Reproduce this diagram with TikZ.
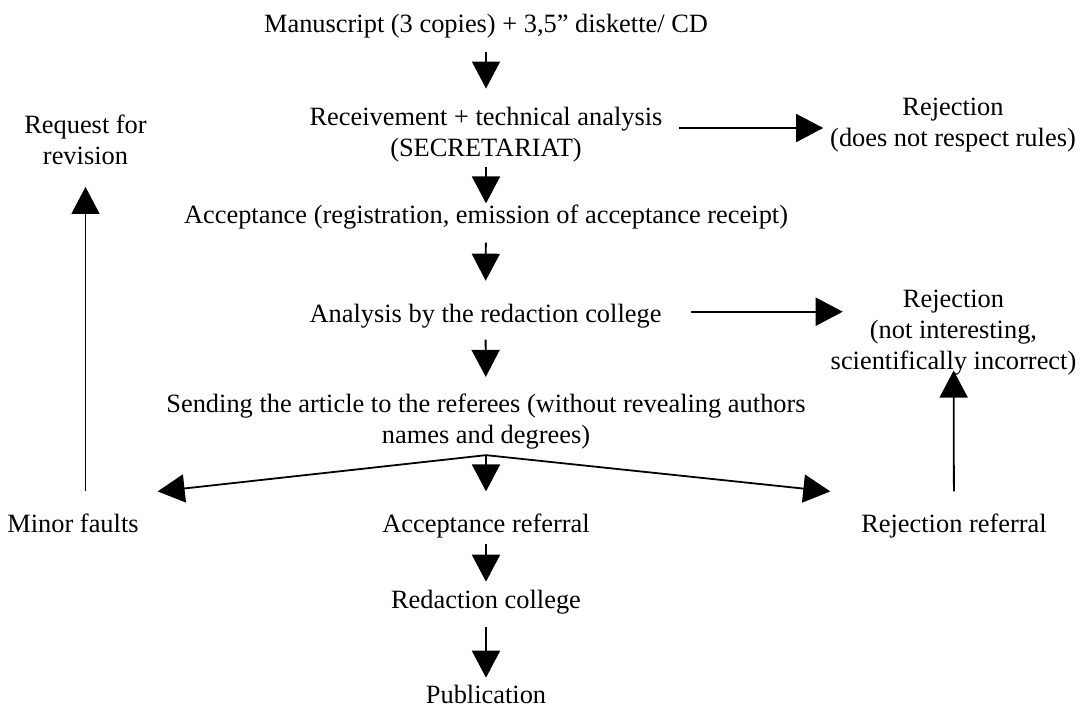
\documentclass[tikz,border=0pt]{standalone}
\usepackage{fontspec}
\setmainfont{Liberation Serif}
\usepackage{tikz}
\usetikzlibrary{arrows.meta,positioning}

\begin{document}
\begin{tikzpicture}[
  x=0.5pt,y=-0.5pt,
  txt/.style={align=center,inner sep=0pt,outer sep=0pt,
    font=\fontsize{13.2}{15.5}\selectfont},
  arr/.style={-{Triangle[length=13.5pt,width=14pt]},line width=0.9pt}]
\useasboundingbox (0,0) rectangle (1083,709);
\node[txt,anchor=base] (man) at (486,32) {Manuscript (3 copies) + 3,5'' diskette/ CD};
\node[txt] (rec) at (486,135) {Receivement + technical analysis\\(SECRETARIAT)};
\node[txt] (rej1) at (953,125) {Rejection\\(does not respect rules)};
\node[txt] (rev) at (85.5,140) {Request for\\revision};
\node[txt,anchor=base] (acc) at (486,223) {Acceptance (registration, emission of acceptance receipt)};
\node[txt,anchor=base] (ana) at (485.5,322) {Analysis by the redaction college};
\node[txt] (rej2) at (953.5,333) {Rejection\\(not interesting,\\scientifically incorrect)};
\node[txt] (send) at (486,421.5) {Sending the article to the referees (without revealing authors\\names and degrees)};
\coordinate[below=3pt of send] (split);
\node[txt,anchor=base] (minor) at (73,532) {Minor faults};
\node[txt,anchor=base] (accref) at (486,532) {Acceptance referral};
\node[txt,anchor=base] (rejref) at (954,532) {Rejection referral};
\node[txt,anchor=base] (red) at (486,608) {Redaction college};
\node[txt,anchor=base] (pub) at (486,703) {Publication};
% main line
\draw[arr,shorten <=7pt,shorten >=9.5pt] (man) -- (rec);
\draw[arr,shorten <=2.5pt,shorten >=0.5pt] (rec) -- (acc);
\draw[arr,shorten <=7pt,shorten >=11.5pt] (acc) -- (ana);
\draw[arr,shorten <=6pt,shorten >=8.5pt] (ana) -- (send);
\draw[arr,shorten >=11pt] (split) -- (accref);
\draw[arr,shorten <=3pt,shorten >=4pt] (accref) -- (red);
\draw[arr,shorten <=6.5pt,shorten >=3.5pt] (red) -- (pub);
% referees
\draw[arr] (split) -- ([xshift=9.5pt,yshift=11pt]minor.north east);
\draw[arr] (split) -- ([xshift=-15.5pt,yshift=11pt]rejref.north west);
\draw[arr,shorten <=11pt,shorten >=11pt] (rev |- minor.north) -- (rev);
\draw[arr,shorten <=11pt,shorten >=-2.5pt] (rejref) -- (rej2);
% rejections
\draw[arr,shorten <=8.5pt,shorten >=3.5pt] ([yshift=3.5pt]rec.east) -- ([yshift=3.5pt]rec.east -| rej1.west);
\draw[arr,shorten <=15pt,shorten >=-6pt] ([yshift=2pt]ana.east) -- ([yshift=2pt]ana.east -| rej2.west);
\end{tikzpicture}
\end{document}
